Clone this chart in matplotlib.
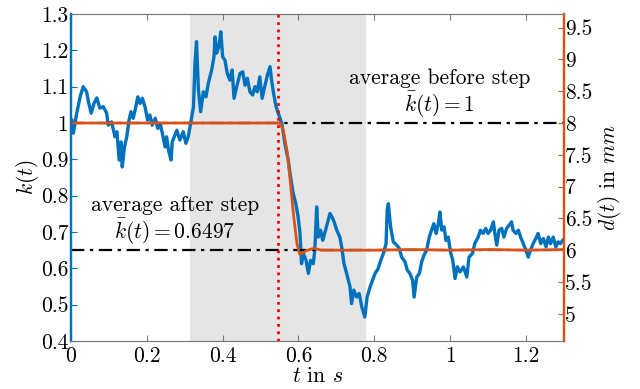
import matplotlib
matplotlib.use("Agg")
import matplotlib.pyplot as plt
import numpy as np

plt.rcParams['font.family'] = 'serif'
plt.rcParams['font.serif'] = ['cmr10']
plt.rcParams['mathtext.fontset'] = 'cm'
plt.rcParams['axes.unicode_minus'] = False
plt.rcParams['font.size'] = 15.5

# k(t)
t_k = np.array([
    0.002, 0.006, 0.015, 0.024, 0.032, 0.041, 0.046, 0.053, 0.061, 0.068,
    0.076, 0.085, 0.094, 0.098, 0.107, 0.116, 0.121, 0.127, 0.132, 0.135,
    0.141, 0.147, 0.153, 0.158, 0.164, 0.171, 0.176, 0.182, 0.188, 0.195,
    0.202, 0.208, 0.214, 0.222, 0.229, 0.235, 0.241, 0.248, 0.252, 0.258,
    0.264, 0.267, 0.274, 0.279, 0.287, 0.296, 0.303, 0.309, 0.314, 0.323,
    0.327, 0.331, 0.336, 0.342, 0.349, 0.356, 0.362, 0.371, 0.377, 0.380,
    0.384, 0.390, 0.395, 0.400, 0.406, 0.412, 0.419, 0.425, 0.430, 0.437,
    0.446, 0.453, 0.459, 0.465, 0.472, 0.479, 0.485, 0.491, 0.498, 0.504,
    0.512, 0.518, 0.525, 0.529, 0.535, 0.541, 0.547, 0.556, 0.564, 0.573,
    0.579, 0.586, 0.593, 0.599, 0.604, 0.608, 0.613, 0.620, 0.626, 0.632,
    0.639, 0.643, 0.648, 0.652, 0.658, 0.664, 0.670, 0.676, 0.683, 0.688,
    0.694, 0.701, 0.709, 0.714, 0.720, 0.727, 0.736, 0.740, 0.746, 0.753,
    0.760, 0.767, 0.775, 0.781, 0.789, 0.802, 0.810, 0.817, 0.824, 0.831,
    0.834, 0.837, 0.843, 0.850, 0.859, 0.866, 0.872, 0.881, 0.887, 0.894,
    0.901, 0.905, 0.912, 0.919, 0.925, 0.931, 0.938, 0.945, 0.951, 0.957,
    0.963, 0.969, 0.973, 0.978, 0.984, 0.989, 0.995, 1.001, 1.007, 1.013,
    1.019, 1.026, 1.035, 1.044, 1.050, 1.059, 1.065, 1.074, 1.080, 1.087,
    1.094, 1.100, 1.107, 1.114, 1.118, 1.123, 1.129, 1.136, 1.142, 1.149,
    1.156, 1.162, 1.166, 1.174, 1.180, 1.186, 1.193, 1.200, 1.206, 1.212,
    1.219, 1.226, 1.232, 1.239, 1.246, 1.253, 1.259, 1.265, 1.272, 1.279,
    1.285, 1.291, 1.297])
k_vals = np.array([
    1.008, 0.972, 1.027, 1.072, 1.100, 1.086, 1.058, 1.027, 1.055, 1.069,
    1.041, 1.045, 1.027, 0.994, 1.003, 0.962, 0.976, 0.898, 0.948, 0.879,
    0.934, 0.962, 1.008, 1.031, 1.013, 1.045, 1.072, 1.054, 1.068, 1.045,
    1.008, 1.022, 0.994, 1.013, 0.985, 0.999, 0.971, 0.934, 0.962, 0.921,
    0.898, 0.948, 0.967, 0.980, 0.953, 0.976, 0.944, 0.962, 0.990, 1.045,
    1.164, 1.224, 1.091, 1.031, 1.086, 1.072, 1.109, 1.146, 1.182, 1.237,
    1.192, 1.210, 1.251, 1.182, 1.173, 1.137, 1.118, 1.146, 1.068, 1.100,
    1.137, 1.141, 1.104, 1.123, 1.086, 1.077, 1.100, 1.086, 1.127, 1.068,
    1.104, 1.132, 1.155, 1.118, 1.077, 1.045, 1.026, 0.999, 0.944, 0.898,
    0.852, 0.806, 0.778, 0.742, 0.696, 0.613, 0.641, 0.622, 0.586, 0.622,
    0.613, 0.650, 0.769, 0.686, 0.705, 0.677, 0.700, 0.723, 0.751, 0.742,
    0.728, 0.705, 0.686, 0.659, 0.613, 0.586, 0.549, 0.503, 0.540, 0.521,
    0.531, 0.494, 0.466, 0.521, 0.549, 0.586, 0.599, 0.622, 0.641, 0.668,
    0.760, 0.778, 0.714, 0.673, 0.664, 0.655, 0.631, 0.618, 0.595, 0.586,
    0.567, 0.521, 0.576, 0.586, 0.618, 0.636, 0.650, 0.686, 0.705, 0.723,
    0.696, 0.723, 0.755, 0.705, 0.714, 0.677, 0.686, 0.645, 0.622, 0.572,
    0.604, 0.590, 0.604, 0.576, 0.631, 0.641, 0.668, 0.686, 0.705, 0.696,
    0.710, 0.696, 0.705, 0.728, 0.696, 0.664, 0.705, 0.710, 0.686, 0.710,
    0.719, 0.728, 0.705, 0.696, 0.705, 0.686, 0.668, 0.650, 0.631, 0.650,
    0.668, 0.682, 0.696, 0.668, 0.682, 0.659, 0.686, 0.668, 0.686, 0.659,
    0.673, 0.668, 0.677])

# d(t) in mm
t_d = [0, 0.55, 0.553, 0.56, 0.57, 0.578, 0.587, 0.596, 0.603, 0.61,
       0.62, 0.64, 0.66, 0.7, 0.8, 0.9, 1.0, 1.1, 1.2, 1.3]
d_vals = [8, 8, 7.98, 7.88, 7.55, 7.1, 6.55, 6.1, 5.94, 5.95,
          5.99, 6.03, 6.0, 6.0, 6.0, 6.01, 6.0, 6.01, 6.0, 6.01]

k_before = 1
k_after = 0.6497
t_step = 0.546
win_start, win_end = 0.313, 0.779

blue = '#0072BD'
orange = '#D95319'
gray = '#7a7a7a'

fig = plt.figure(figsize=(6.4, 3.89), dpi=100)
ax = fig.add_axes([0.111, 0.1234, 0.77, 0.8406])
ax2 = ax.twinx()

ax.axvspan(win_start, win_end, color='#e5e5e5', lw=0, zorder=0)
ax.plot(t_k, k_vals, color=blue, lw=2.4, zorder=2)
ax.axhline(k_before, color='k', ls=(0, (6, 2.5, 1.5, 2.5)), lw=1.6, zorder=3)
ax.axhline(k_after, color='k', ls=(0, (6, 2.5, 1.5, 2.5)), lw=1.6, zorder=3)

ax2.plot(t_d, d_vals, color=orange, lw=2.0, zorder=2)
ax2.axvline(t_step, color='red', ls=':', lw=2.0, zorder=5)

ax.set_xlim(0, 1.3)
ax.set_ylim(0.4, 1.3)
ax2.set_ylim(8 - 0.6 * 2 / 0.35, 8 + 0.3 * 2 / 0.35)

xt = [0, 0.2, 0.4, 0.6, 0.8, 1, 1.2]
ax.set_xticks(xt)
ax.set_xticklabels(['0', '0.2', '0.4', '0.6', '0.8', '1', '1.2'])
yt = [0.4, 0.5, 0.6, 0.7, 0.8, 0.9, 1, 1.1, 1.2, 1.3]
ax.set_yticks(yt)
ax.set_yticklabels(['0.4', '0.5', '0.6', '0.7', '0.8', '0.9', '1', '1.1', '1.2', '1.3'])
dt = [5, 5.5, 6, 6.5, 7, 7.5, 8, 8.5, 9, 9.5]
ax2.set_yticks(dt)
ax2.set_yticklabels(['5', '5.5', '6', '6.5', '7', '7.5', '8', '8.5', '9', '9.5'])

ax.tick_params(axis='x', direction='in', top=True, length=4, color=gray, pad=4)
ax.tick_params(axis='y', direction='in', length=4, color=blue, pad=2)
ax2.tick_params(axis='y', direction='in', length=4, color=orange, pad=1)

for a in (ax, ax2):
    a.spines['top'].set_color(gray)
    a.spines['bottom'].set_color(gray)
    a.spines['left'].set_color(blue)
    a.spines['right'].set_color(orange)
    a.spines['left'].set_linewidth(1.6)
    a.spines['right'].set_linewidth(1.6)

ax.set_xlabel('$t$ in $s$', labelpad=0)
ax.set_ylabel('$k(t)$', labelpad=0)
ax2.set_ylabel('$d(t)$ in $mm$', labelpad=2)

ax.text(0.973, 1.124, 'average before step', ha='center', va='center', zorder=6)
ax.text(0.973, 1.049, r'$\bar{k}(t) = 1$', ha='center', va='center', zorder=6)
ax.text(0.274, 0.774, 'average after step', ha='center', va='center', zorder=6)
ax.text(0.274, 0.700, r'$\bar{k}(t) = 0.6497$', ha='center', va='center', zorder=6)

fig.savefig('out.png', dpi=100)
